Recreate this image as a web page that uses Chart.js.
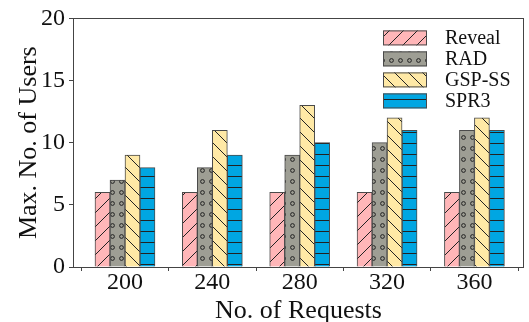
<!DOCTYPE html>
<html>
<head>
<meta charset="utf-8">
<script src="https://cdn.jsdelivr.net/npm/chart.js@4"></script>
<style>
  html, body { margin: 0; padding: 0; background: #fff; }
  #wrap { width: 529px; height: 322px; }
</style>
</head>
<body>
<div id="wrap"><canvas id="c" width="529" height="322"></canvas></div>
<script>
// Number of requests on the x axis
const requests = [200, 240, 280, 320, 360];
// Max. number of users served per scheme
const reveal = [6, 6, 6, 6, 6];
const rad    = [7, 8, 9, 10, 11];
const gspSS  = [9, 11, 13, 12, 12];
const spr3   = [8, 9, 10, 11, 11];
// Axis ticks
const yTicks = [0, 5, 10, 15, 20];
const seriesNames = ['Reveal', 'RAD', 'GSP-SS', 'SPR3'];

const FONT = '"Liberation Serif", "Times New Roman", serif';
const INK = '#222';
const EDGE = '#4a4a4a';

// Hatched fills built as repeating canvas patterns
function makeTile(w, h, bg, drawFn) {
  const t = document.createElement('canvas');
  t.width = w; t.height = h;
  const g = t.getContext('2d');
  g.fillStyle = bg;
  g.fillRect(0, 0, w, h);
  g.strokeStyle = INK;
  g.lineWidth = 1;
  drawFn(g, w, h);
  return document.getElementById('c').getContext('2d').createPattern(t, 'repeat');
}
function diag(g, s, forward) {
  g.beginPath();
  for (let k = -1; k <= 1; k++) {
    const o = k * s;
    if (forward) { g.moveTo(o, s); g.lineTo(o + s, 0); }
    else { g.moveTo(o, 0); g.lineTo(o + s, s); }
  }
  g.stroke();
}
const fillReveal = makeTile(14, 14, '#ffb6b8', (g, w) => diag(g, w, true));
const fillGsp = makeTile(14, 14, '#ffe9a6', (g, w) => diag(g, w, false));
const fillSpr = makeTile(8, 11, '#00a6e2', (g, w) => {
  g.beginPath(); g.moveTo(0, 0.5); g.lineTo(w, 0.5); g.stroke();
});
const fillRad = makeTile(9, 11, '#9e9e94', (g, w, h) => {
  g.beginPath(); g.arc(w / 2, h / 2, 1.9, 0, Math.PI * 2); g.stroke();
});

const seriesValues = [reveal, rad, gspSS, spr3];
const seriesFills = [fillReveal, fillRad, fillGsp, fillSpr];

const datasets = seriesNames.map((name, i) => ({
  label: name,
  data: requests.map((r, j) => ({ x: r, y: seriesValues[i][j] })),
  backgroundColor: seriesFills[i],
  borderColor: EDGE,
  borderWidth: 1,
  borderSkipped: 'bottom',
  barThickness: 15
}));

// Plot frame and the in-plot legend
const framePlugin = {
  id: 'frameAndLegend',
  afterDatasetsDraw(chart) {
    const { ctx, chartArea: a } = chart;
    ctx.save();
    ctx.strokeStyle = '#444';
    ctx.lineWidth = 1;
    ctx.strokeRect(Math.round(a.left) + 0.5, Math.round(a.top) + 0.5,
                   Math.round(a.right - a.left) - 1, Math.round(a.bottom - a.top));
    // legend
    const bx = a.right - 141, by0 = a.top + 12, step = 21, bw = 44, bh = 15;
    ctx.font = '20px ' + FONT;
    ctx.textBaseline = 'middle';
    ctx.textAlign = 'left';
    chart.data.datasets.forEach((ds, i) => {
      const y = by0 + i * step;
      ctx.fillStyle = ds.backgroundColor;
      ctx.fillRect(bx, y, bw, bh);
      ctx.strokeStyle = EDGE;
      ctx.strokeRect(bx + 0.5, y + 0.5, bw - 1, bh - 1);
      ctx.fillStyle = '#111';
      ctx.fillText(ds.label, bx + 62, y + bh / 2 + 1);
    });
    ctx.restore();
  }
};

new Chart(document.getElementById('c'), {
  type: 'bar',
  data: { datasets },
  options: {
    responsive: false,
    animation: false,
    layout: { padding: { top: 18, right: 5, left: 0, bottom: 0 } },
    plugins: { legend: { display: false }, tooltip: { enabled: false } },
    scales: {
      x: {
        type: 'linear',
        min: 176.2,
        max: 382.7,
        offset: false,
        afterBuildTicks: s => { s.ticks = requests.map(v => ({ value: v })); },
        afterFit: s => { s.height = 55; },
        grid: { drawOnChartArea: false, drawTicks: true, tickLength: 4, color: '#444' },
        border: { display: false },
        ticks: {
          autoSkip: false, maxRotation: 0, padding: -3,
          color: '#111',
          font: { family: FONT, size: 24 },
          callback: v => String(v)
        },
        title: {
          display: true, text: 'No. of Requests', color: '#111',
          font: { family: FONT, size: 26, lineHeight: 1 },
          padding: { top: 0, bottom: -2 }
        }
      },
      y: {
        min: 0,
        max: 20,
        afterBuildTicks: s => { s.ticks = yTicks.map(v => ({ value: v })); },
        afterFit: s => { s.width = 73; },
        grid: { drawOnChartArea: false, drawTicks: true, tickLength: 4, color: '#444' },
        border: { display: false },
        ticks: {
          padding: 4, color: '#111',
          font: { family: FONT, size: 24 }
        },
        title: {
          display: true, text: 'Max. No. of Users', color: '#111',
          font: { family: FONT, size: 26, lineHeight: 1 },
          padding: { top: 16, bottom: 0 }
        }
      }
    }
  },
  plugins: [framePlugin]
});
</script>
</body>
</html>
